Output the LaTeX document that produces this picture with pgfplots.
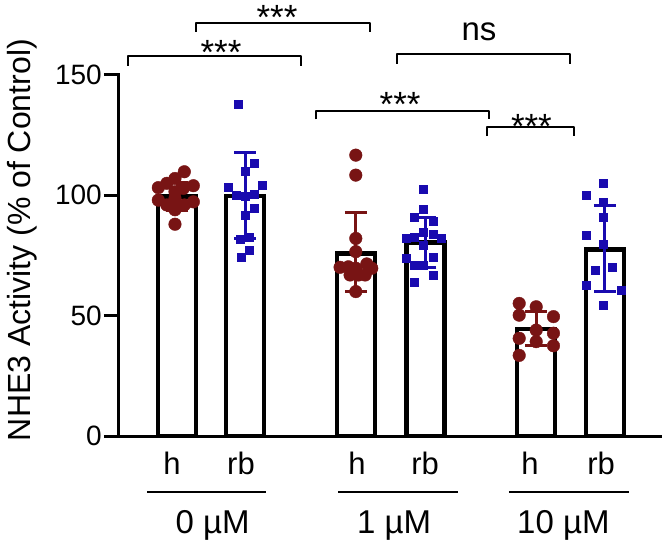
\documentclass[border=0pt]{standalone}
\usepackage{pgfplots}
\pgfplotsset{compat=1.18}
\usepackage{fontspec}
\setmainfont{Liberation Sans}
\definecolor{hred}{RGB}{120,20,20}
\definecolor{rbblue}{RGB}{25,10,175}
\begin{document}
\begin{tikzpicture}
\begin{axis}[
  at={(0,0)}, anchor=south west,
  scale only axis, width=541pt, height=361pt,
  xmin=-0.853, xmax=7.1, ymin=0, ymax=150,
  axis x line=bottom, axis y line=left,
  axis line style={-, line width=3pt, line cap=rect},
  xtick=\empty, ytick={0,50,100,150},
  tick align=outside, major tick length=15pt,
  tick style={line width=3pt, black},
  /pgf/number format/assume math mode=true,
  yticklabel style={font=\fontsize{28}{28}\selectfont, inner sep=2pt},
  clip=false,
]
% bars (means)
\addplot[ybar, bar width=38pt, fill=white, draw=black, line width=4.5pt]
  coordinates {(0,99.5) (1,99.8) (2.63,75.8) (3.65,80.3) (5.28,44.4) (6.29,77.4)};

% h points
\addplot[only marks, mark=*, mark size=6.3pt, color=hred, mark options={fill=hred, draw=hred}]
  coordinates {
  (0.107,109.8) (-0.03,107) (-0.15,105) (-0.275,103.2) (0.24,104) (0.093,102.9)
  (-0.03,101.5) (-0.275,98) (-0.15,96) (-0.03,94) (0.107,96) (0.24,97.3)
  (-0.03,88) (-0.03,98.7)
  (2.628,116.7) (2.628,108.4) (2.628,82.1) (2.628,76.6) (2.397,70.1) (2.519,70.3)
  (2.79,71.5) (2.863,69.7) (2.544,66.9) (2.666,66.9) (2.765,66.9) (2.628,60) (2.628,69.7)
  (5.03,55.1) (5.28,53.7) (5.03,50.2) (5.534,49.6) (5.28,44) (5.534,42.7)
  (5.03,40.6) (5.28,39.2) (5.534,37.5) (5.03,33.5)
  };
% rb points
\addplot[only marks, mark=square*, mark size=4pt, color=rbblue, mark options={fill=rbblue, draw=rbblue}]
  coordinates {
  (0.893,138) (1.128,113.3) (0.996,110) (1.25,104.3) (0.746,103.2) (0.872,100.1)
  (1.004,99.8) (1.128,100.4) (1.128,94.6) (0.996,91.8) (0.931,81.8) (1.054,82.8)
  (1.063,77) (0.941,74.5)
  (3.622,102.6) (3.622,94.3) (3.49,90.8) (3.76,89.4) (3.622,84.5) (3.49,82.8)
  (3.76,83.7) (3.368,82) (3.878,82) (3.622,79.4) (3.368,73.8) (3.76,74.5)
  (3.49,71) (3.622,70.8) (3.76,66.9) (3.49,63.9)
  (6.269,105.2) (6.015,100.1) (6.269,97.1) (6.269,91.1) (6.015,83.5) (6.269,79.8)
  (6.147,68.7) (6.393,70.3) (6.015,62.7) (6.525,60.7) (6.269,54.4)
  };
% error bars h
\addplot[draw=none, mark=none, error bars/.cd, y dir=both, y explicit,
  error bar style={draw=hred, line width=3pt},
  error mark options={draw=hred, rotate=90, mark size=11pt, line width=3pt}]
  coordinates {(0,99.5) +- (0,6) (2.63,76.4) +- (0,16.4) (5.28,44.5) +- (0,7.1)};
% error bars rb
\addplot[draw=none, mark=none, error bars/.cd, y dir=both, y explicit,
  error bar style={draw=rbblue, line width=3pt},
  error mark options={draw=rbblue, rotate=90, mark size=11pt, line width=3pt}]
  coordinates {(1,99.8) +- (0,17.8) (3.65,80.5) +- (0,10.3) (6.29,77.9) +- (0,17.7)};

% significance brackets
\begin{scope}[line width=2pt, line join=round]
\draw (axis cs:0.276,168.0) -- (axis cs:0.276,171.4) -- (axis cs:2.83,171.4) -- (axis cs:2.83,168.0);
\draw (axis cs:-0.72,153.9) -- (axis cs:-0.72,157.8) -- (axis cs:1.82,157.8) -- (axis cs:1.82,153.9);
\draw (axis cs:3.235,154.6) -- (axis cs:3.235,158.8) -- (axis cs:5.77,158.8) -- (axis cs:5.77,154.6);
\draw (axis cs:2.05,131.6) -- (axis cs:2.05,134.9) -- (axis cs:4.58,134.9) -- (axis cs:4.58,131.6);
\draw (axis cs:4.56,124.6) -- (axis cs:4.56,128.4) -- (axis cs:5.84,128.4) -- (axis cs:5.84,124.6);
\end{scope}
\begin{scope}[every node/.style={font=\fontsize{35}{35}\selectfont, inner sep=0pt, anchor=base}]
\node at (axis cs:1.47,168.8) {***};
\node at (axis cs:0.647,154.3) {***};
\node at (axis cs:3.28,132.8) {***};
\node at (axis cs:5.21,123.6) {***};
\end{scope}
\node[font=\fontsize{33}{33}\selectfont, inner sep=0pt, anchor=base] at (axis cs:4.44,164.4) {ns};

% y label
\node[rotate=90, font=\fontsize{32}{32}\selectfont, inner sep=0pt] at (axis cs:-2.279,81.4) {NHE3 Activity (\% of Control)};

% x labels
\begin{scope}[every node/.style={font=\fontsize{31}{31}\selectfont, inner sep=0pt, anchor=base}]
\node at (axis cs:-0.074,-16.2) {h};
\node at (axis cs:0.94,-16.2) {rb};
\node at (axis cs:2.647,-16.2) {h};
\node at (axis cs:3.647,-16.2) {rb};
\node at (axis cs:5.19,-16.2) {h};
\node at (axis cs:6.235,-16.2) {rb};
\end{scope}
\draw[line width=2pt] (axis cs:-0.44,-23.1) -- (axis cs:1.315,-23.1);
\draw[line width=2pt] (axis cs:2.37,-23.1) -- (axis cs:4.128,-23.1);
\draw[line width=2pt] (axis cs:4.88,-23.1) -- (axis cs:6.64,-23.1);
\begin{scope}[every node/.style={font=\fontsize{33}{33}\selectfont, inner sep=0pt, anchor=base}]
\node at (axis cs:0.522,-40.7) {0 µM};
\node at (axis cs:3.19,-40.7) {1 µM};
\node at (axis cs:5.68,-40.7) {10 µM};
\end{scope}
\end{axis}
\pgfresetboundingbox
\path[use as bounding box] (-119pt,-108pt) rectangle (545pt,436pt);
\end{tikzpicture}
\end{document}
